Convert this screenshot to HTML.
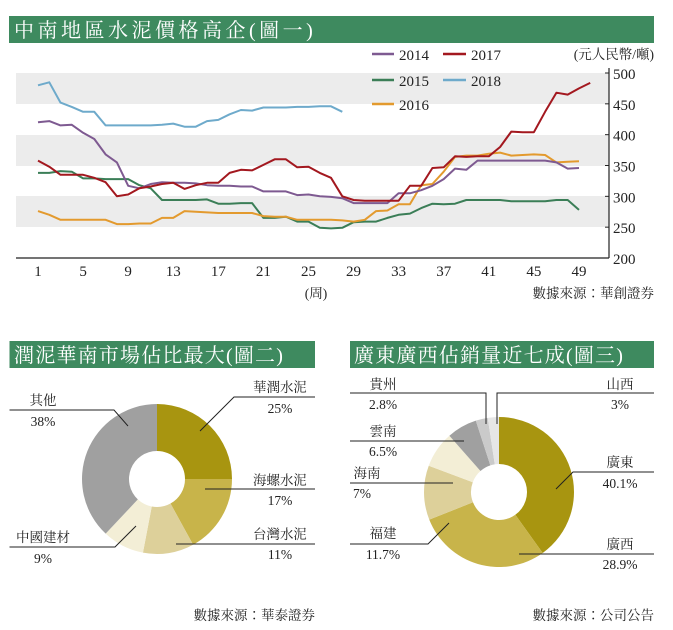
<!DOCTYPE html>
<html><head><meta charset="utf-8">
<style>
body{margin:0;background:#fff;width:673px;height:630px;overflow:hidden}
svg{display:block}
text{font-family:"Liberation Serif","Noto Serif CJK TC","Noto Serif CJK SC",serif}
.h{fill:#fff;font-size:20px;font-family:"Liberation Serif","Noto Serif CJK SC",serif;letter-spacing:3.5px}
.h2{fill:#fff;font-size:20px;font-family:"Liberation Serif","Noto Serif CJK SC",serif;letter-spacing:1.2px}
.l{font-size:13.5px;fill:#222}
.t{font-size:15px;fill:#222}
</style></head><body>
<svg id="s" width="673" height="630" xmlns="http://www.w3.org/2000/svg">
<rect x="9" y="16" width="645" height="27" fill="#3e8a5f"/>
<text class="h" x="14" y="37">中南地區水泥價格高企(圖一)</text>
<rect x="16" y="73" width="593" height="31" fill="#ececec"/>
<rect x="16" y="135" width="593" height="31" fill="#ececec"/>
<rect x="16" y="196" width="593" height="31" fill="#ececec"/>
<line x1="16" y1="258" x2="609" y2="258" stroke="#222" stroke-width="1.2"/>
<line x1="609" y1="68" x2="609" y2="258" stroke="#222" stroke-width="1.2"/>
<g id="topg"></g>
<text class="l" x="654" y="59" text-anchor="end">(元人民幣/噸)</text>
<line x1="372" y1="54" x2="394" y2="54" stroke="#7e5a91" stroke-width="2.5"/><text class="t" x="399" y="60">2014</text>
<line x1="443" y1="54" x2="466" y2="54" stroke="#a3181f" stroke-width="2.5"/><text class="t" x="471" y="60">2017</text>
<line x1="372" y1="80" x2="394" y2="80" stroke="#3b7e57" stroke-width="2.5"/><text class="t" x="399" y="86">2015</text>
<line x1="443" y1="80" x2="466" y2="80" stroke="#6eaacb" stroke-width="2.5"/><text class="t" x="471" y="86">2018</text>
<line x1="372" y1="104" x2="394" y2="104" stroke="#e39a2e" stroke-width="2.5"/><text class="t" x="399" y="110">2016</text>
<text class="l" x="316" y="298" text-anchor="middle">(周)</text>
<text class="l" x="654" y="298" text-anchor="end">數據來源：華創證券</text>

<rect x="9.5" y="341" width="305.5" height="27" fill="#3e8a5f"/>
<text class="h2" x="14" y="362">潤泥華南市場佔比最大(圖二)</text>
<rect x="350" y="341" width="304" height="27" fill="#3e8a5f"/>
<text class="h2" x="354" y="362">廣東廣西佔銷量近七成(圖三)</text>
<g id="p1"></g><g id="p2"></g>
<g stroke="#222" stroke-width="1" fill="none">
<polyline points="9.5,410 114,410 128,426"/>
<polyline points="315,397 234,397 200,431"/>
<polyline points="315,489 205,489"/>
<polyline points="315,544 176,544"/>
<polyline points="9.5,547 115,547 136,526"/>
<polyline points="350,393 486,393 486,424"/>
<polyline points="654,393 497,393 497,424"/>
<polyline points="350,441 464,441"/>
<polyline points="350,483 453,483"/>
<polyline points="350,544 428,544 449,523"/>
<polyline points="654,472 573,472 556,489"/>
<polyline points="654,554 519,554"/>
</g>
<g text-anchor="middle">
<text class="l" x="43" y="405">其他</text><text class="l" x="43" y="426">38%</text>
<text class="l" x="280" y="392">華潤水泥</text><text class="l" x="280" y="413">25%</text>
<text class="l" x="280" y="485">海螺水泥</text><text class="l" x="280" y="505">17%</text>
<text class="l" x="280" y="539">台灣水泥</text><text class="l" x="280" y="559">11%</text>
<text class="l" x="43" y="542">中國建材</text><text class="l" x="43" y="563">9%</text>
<text class="l" x="383" y="389">貴州</text><text class="l" x="383" y="409">2.8%</text>
<text class="l" x="620" y="389">山西</text><text class="l" x="620" y="409">3%</text>
<text class="l" x="383" y="436">雲南</text><text class="l" x="383" y="456">6.5%</text>
<text class="l" x="367" y="478">海南</text><text class="l" x="362" y="498">7%</text>
<text class="l" x="383" y="538">福建</text><text class="l" x="383" y="559">11.7%</text>
<text class="l" x="620" y="467">廣東</text><text class="l" x="620" y="488">40.1%</text>
<text class="l" x="620" y="549">廣西</text><text class="l" x="620" y="569">28.9%</text>
</g>
<text class="l" x="315" y="620" text-anchor="end">數據來源：華泰證券</text>
<text class="l" x="654" y="620" text-anchor="end">數據來源：公司公告</text>
</svg>
<script>
(function(){
var NS="http://www.w3.org/2000/svg";
function el(p,n,a,t){var e=document.createElementNS(NS,n);for(var k in a)e.setAttribute(k,a[k]);if(t!=null)e.textContent=t;p.appendChild(e);return e;}
var tg=document.getElementById("topg");
function X(w){return 38+(w-1)*11.27}
function Y(v){return 73+(500-v)*185/300}
for(var v=200;v<=500;v+=50){el(tg,"line",{x1:605,y1:Y(v),x2:609,y2:Y(v),stroke:"#222"});el(tg,"text",{x:613,y:Y(v)+6,"class":"t"},v);}
for(var w=1;w<=49;w+=4){el(tg,"text",{x:X(w),y:276,"class":"t","text-anchor":"middle"},w);}
var D={
"#3b7e57":[338,338,341,340,329,329,328,328,328,318,313,294,294,294,294,295,288,288,289,289,265,265,267,259,259,249,248,249,258,259,259,265,270,272,281,288,287,288,294,294,294,294,292,292,292,292,294,294,278],
"#e39a2e":[276,270,262,262,262,262,262,255,255,256,256,265,265,276,275,274,273,273,273,273,268,267,267,262,262,262,262,261,259,262,276,277,287,287,318,320,340,364,366,366,369,371,366,367,368,367,355,356,357],
"#7e5a91":[420,422,415,416,403,393,368,355,317,313,320,323,322,322,321,318,317,317,316,316,308,308,308,302,303,300,299,297,289,289,289,289,305,305,310,317,328,345,343,358,358,358,358,358,358,358,355,345,346],
"#a3181f":[358,348,335,335,335,330,323,300,303,313,316,320,322,312,318,322,322,338,343,342,351,360,360,347,348,338,330,300,294,293,293,293,293,317,317,346,347,365,364,365,365,380,405,404,404,437,468,465,475,484],
"#6eaacb":[480,485,452,445,437,437,415,415,415,415,415,416,418,413,413,422,424,433,440,439,444,444,444,445,445,446,446,437]};
for(var c in D){var p=D[c].map(function(v,i){return X(i+1).toFixed(1)+","+Y(v).toFixed(1)}).join(" ");el(tg,"polyline",{points:p,fill:"none",stroke:c,"stroke-width":2,"stroke-linejoin":"round"});}
function pie(g,cx,cy,R,r,data){var a=0;data.forEach(function(d){var a0=a*2*Math.PI/100-Math.PI/2;a+=d[0];var a1=a*2*Math.PI/100-Math.PI/2;var L=d[0]>50?1:0;
function P(rr,ang){return (cx+rr*Math.cos(ang)).toFixed(2)+","+(cy+rr*Math.sin(ang)).toFixed(2)}
el(g,"path",{d:"M"+P(R,a0)+" A"+R+","+R+" 0 "+L+" 1 "+P(R,a1)+" L"+P(r,a1)+" A"+r+","+r+" 0 "+L+" 0 "+P(r,a0)+"Z",fill:d[1]});});}
pie(document.getElementById("p1"),157,479,75,28,[[25,"#a89510"],[17,"#c8b44a"],[11,"#ddd09a"],[9,"#f3eed6"],[38,"#a0a0a0"]]);
pie(document.getElementById("p2"),499,492,75,28,[[40.1,"#a89510"],[28.9,"#c8b44a"],[11.7,"#ddd09a"],[7.8,"#f3eed6"],[6.5,"#a0a0a0"],[2.6,"#cacaca"],[2.4,"#e6e6e6"]]);
})();
</script>
</body></html>
